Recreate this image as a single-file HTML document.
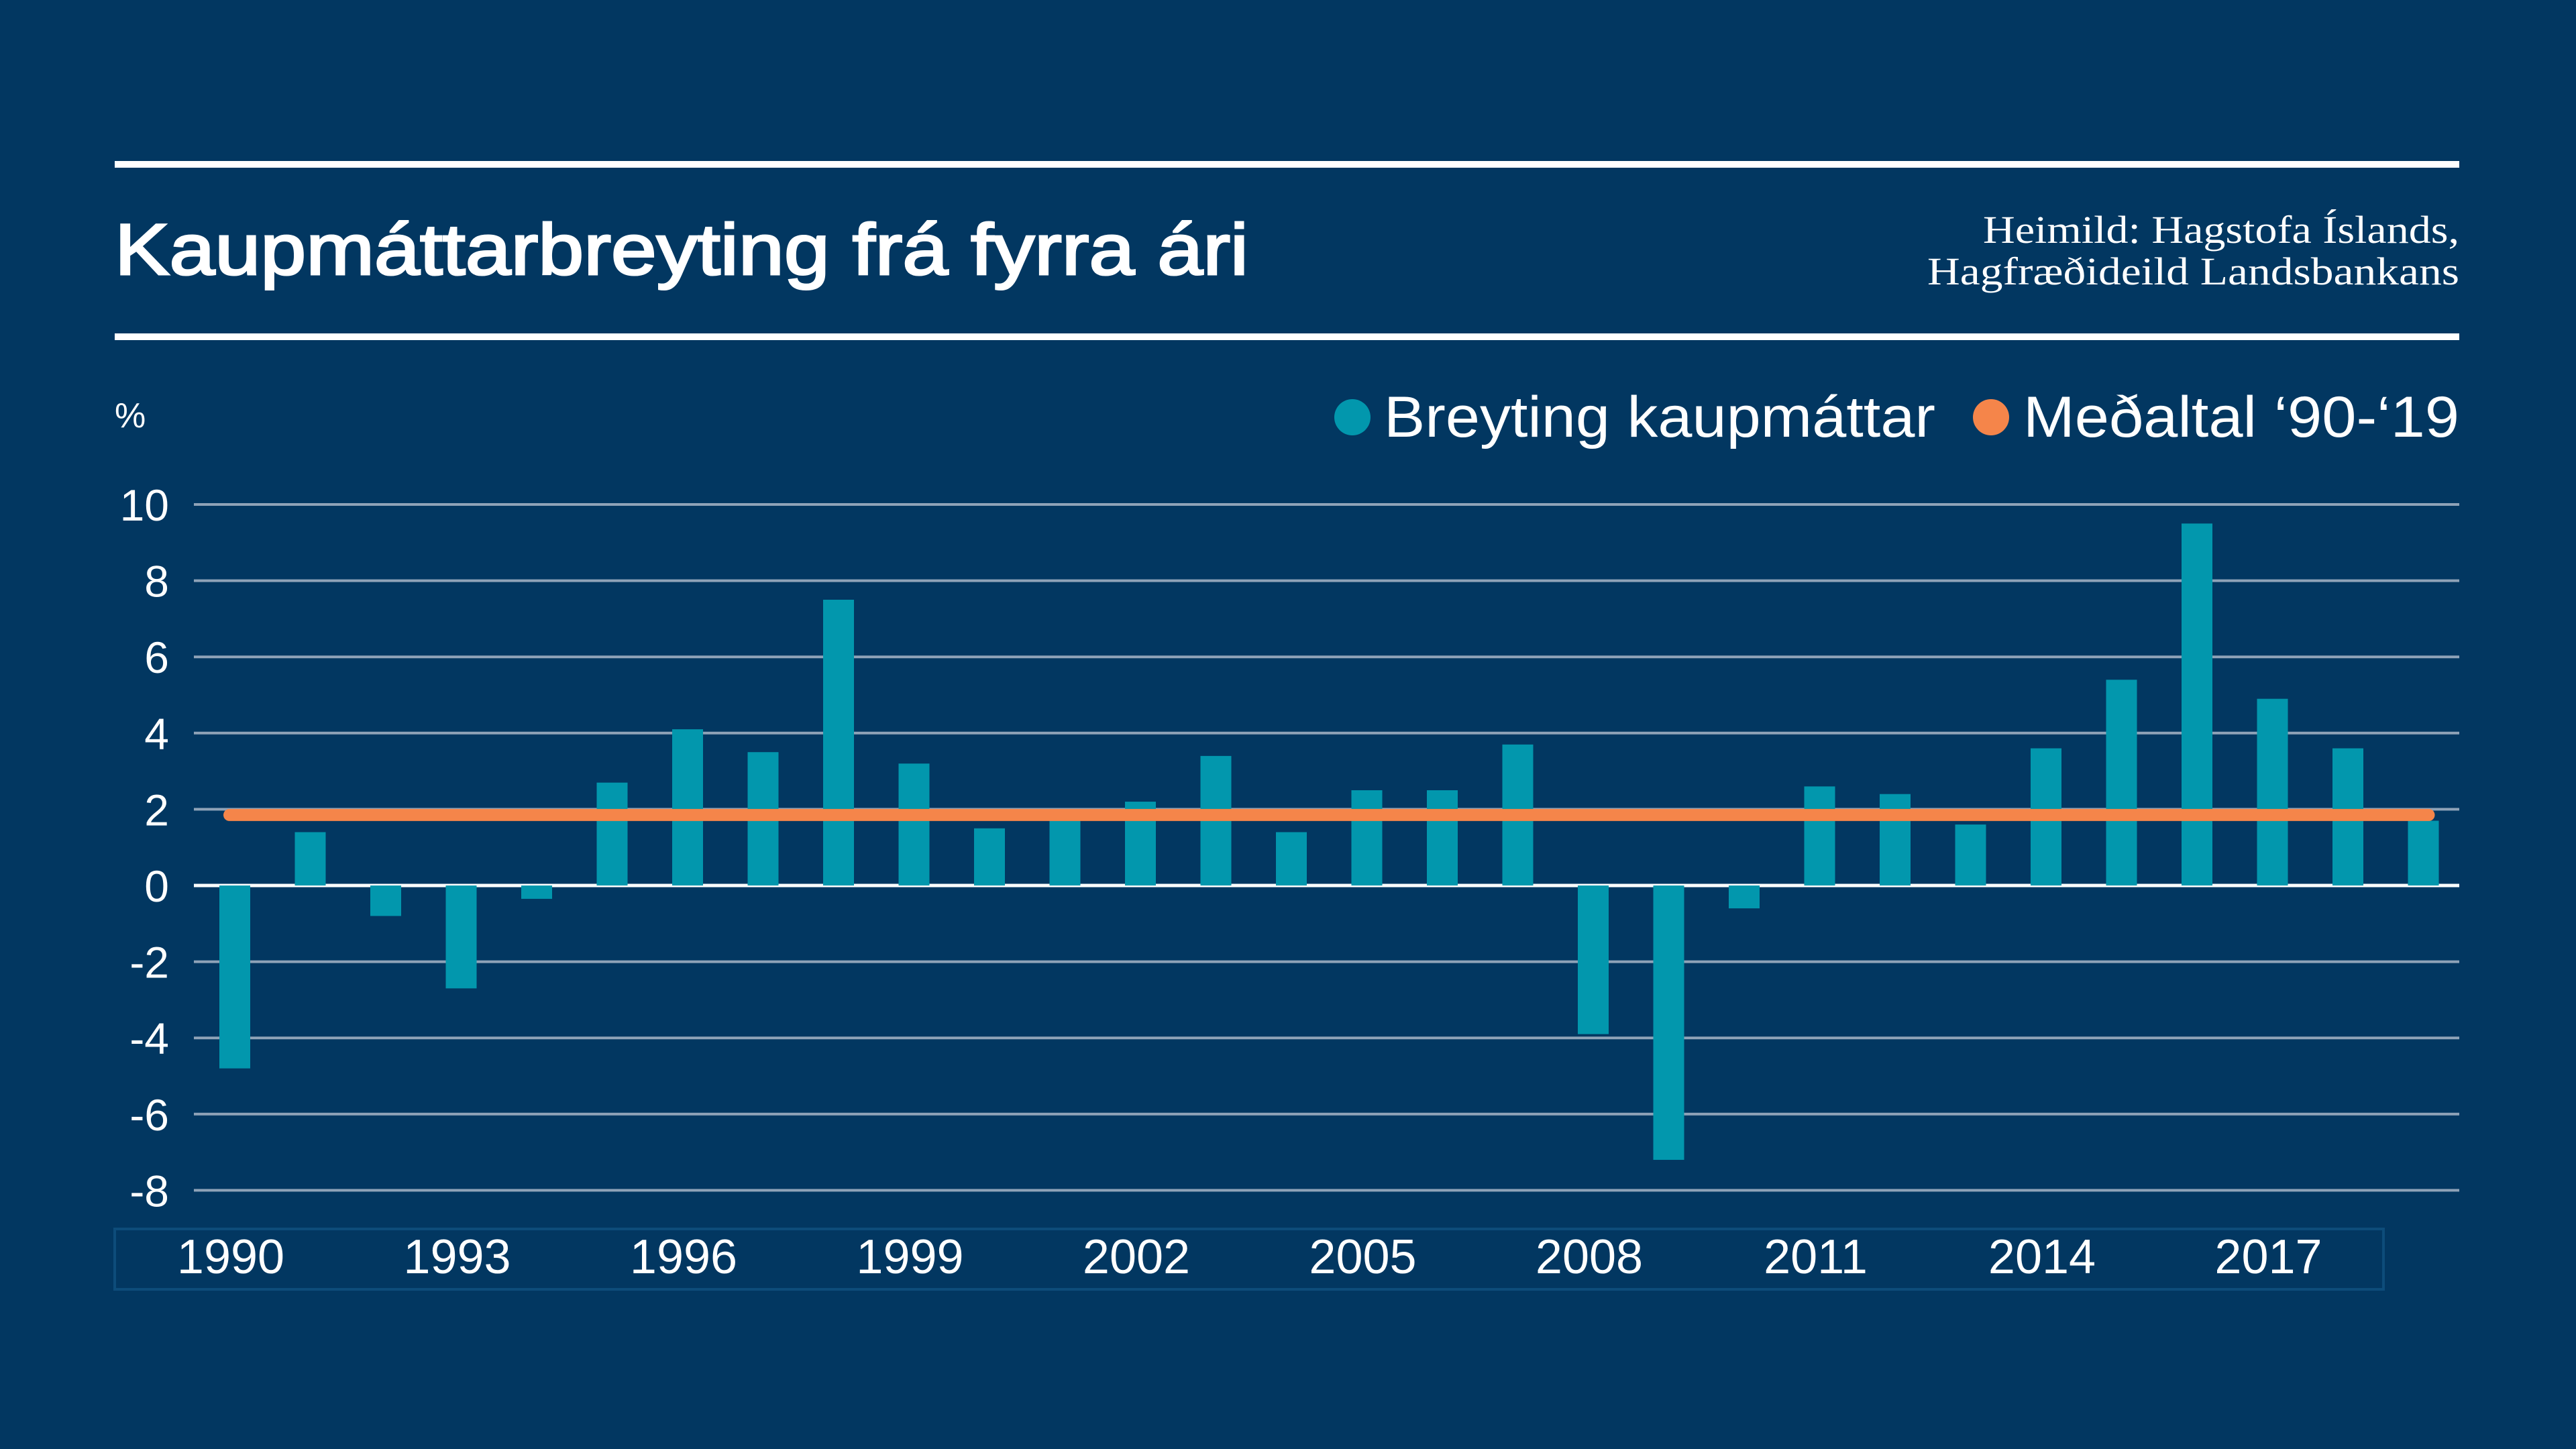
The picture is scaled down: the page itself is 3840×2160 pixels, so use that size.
<!DOCTYPE html>
<html><head><meta charset="utf-8"><style>
html,body{margin:0;padding:0;background:#023761;}
svg{display:block;}
text{font-family:"Liberation Sans",sans-serif;fill:#fff;}
.serif{font-family:"Liberation Serif",serif;}
</style></head><body>
<svg id="chart" width="3840" height="2160" viewBox="0 0 3840 2160">
<rect width="3840" height="2160" fill="#023761"/>
<rect x="171" y="240" width="3495" height="10" fill="#fff"/>
<rect x="171" y="497" width="3495" height="10" fill="#fff"/>
<text x="171" y="409" font-size="108" stroke="#fff" stroke-width="3" textLength="1690" lengthAdjust="spacingAndGlyphs">Kaupmáttarbreyting frá fyrra ári</text>
<text class="serif" x="3666" y="362" font-size="58" text-anchor="end" textLength="710" lengthAdjust="spacingAndGlyphs">Heimild: Hagstofa Íslands,</text>
<text class="serif" x="3666" y="424" font-size="58" text-anchor="end" textLength="793" lengthAdjust="spacingAndGlyphs">Hagfræðideild Landsbankans</text>
<text x="171" y="637" font-size="52">%</text>
<g>
<circle cx="2016" cy="622" r="27" fill="#0297ad"/>
<text x="2063" y="651" font-size="86" textLength="822" lengthAdjust="spacingAndGlyphs">Breyting kaupmáttar</text>
<circle cx="2968" cy="622" r="27" fill="#f5854a"/>
<text x="3016" y="651" font-size="86" textLength="650" lengthAdjust="spacingAndGlyphs">Meðaltal ‘90-‘19</text>
</g>
<rect x="171" y="1832" width="3382" height="90" fill="none" stroke="#0d4c7a" stroke-width="4"/>
<g id="grid"></g><g id="bars"></g><g id="avg"></g><g id="xlabels"></g>
</svg>
<script>
const years=[1990,1991,1992,1993,1994,1995,1996,1997,1998,1999,2000,2001,2002,2003,2004,2005,2006,2007,2008,2009,2010,2011,2012,2013,2014,2015,2016,2017,2018,2019];
const values=[-4.8,1.4,-0.8,-2.7,-0.35,2.7,4.1,3.5,7.5,3.2,1.5,1.8,2.2,3.4,1.4,2.5,2.5,3.7,-3.9,-7.2,-0.6,2.6,2.4,1.6,3.6,5.4,9.5,4.9,3.6,1.7];
const average=[1.85];
const yTicks=[10,8,6,4,2,0,-2,-4,-6,-8];
const xTickYears=[1990,1993,1996,1999,2002,2005,2008,2011,2014,2017];
const NS='http://www.w3.org/2000/svg';
const y=v=>1320-v*56.8;
const x=yr=>350+(yr-1990)*112.5;
function mk(tag,attrs,parent){const e=document.createElementNS(NS,tag);for(const k in attrs)e.setAttribute(k,attrs[k]);document.getElementById(parent).appendChild(e);return e;}
yTicks.forEach(t=>{
  const l=mk('line',{x1:289,x2:3666,y1:y(t),y2:y(t),stroke:t===0?'#ffffff':'#8fa3b8','stroke-width':t===0?5:4},'grid');
  
  
  const tx=mk('text',{x:252,y:y(t)+24,'font-size':66,'text-anchor':'end'},'grid');
  tx.textContent=String(t);
  
  
});
years.forEach((yr,i)=>{
  const v=values[i];
  const r=mk('rect',{x:x(yr)-23,y:Math.min(y(v),y(0)),width:46,height:Math.abs(y(v)-y(0)),fill:'#0297ad'},'bars');
  
  
});
const a=mk('line',{x1:x(1990)-8,x2:x(2019)+8,y1:y(average[0]),y2:y(average[0]),stroke:'#f5854a','stroke-width':18,'stroke-linecap':'round'},'avg');


xTickYears.forEach(yr=>{
  const t=mk('text',{x:x(yr)-6,y:1898,'font-size':72,'text-anchor':'middle'},'xlabels');
  t.textContent=String(yr);
  
  
});
</script>
</body></html>
